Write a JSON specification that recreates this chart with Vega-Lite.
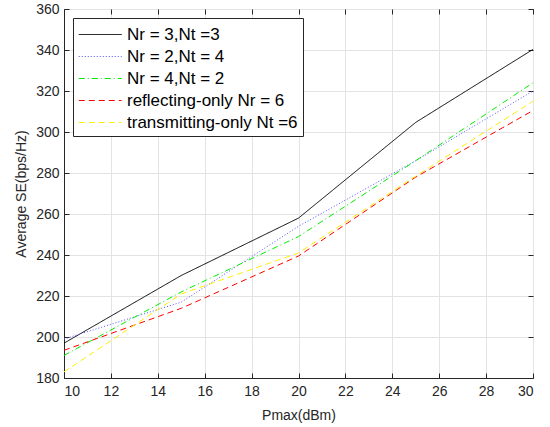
{
  "$schema": "https://vega.github.io/schema/vega-lite/v6.json",
  "width": 469,
  "height": 369,
  "autosize": {"type": "none"},
  "padding": {"left": 64, "top": 9, "right": 17, "bottom": 49},
  "background": "white",
  "config": {
    "font": "Liberation Sans",
    "view": {"stroke": "#262626", "strokeWidth": 1},
    "legend": {
      "symbolType": "M-1,0H3",
      "symbolSize": 460,
      "symbolStrokeWidth": 1,
      "labelFontSize": 17,
      "labelFont": "Liberation Sans",
      "labelColor": "#000000",
      "labelLimit": 300,
      "labelOffset": 26,
      "rowPadding": 2,
      "padding": 5,
      "strokeColor": "#262626",
      "fillColor": "white",
      "cornerRadius": 0
    }
  },
  "data": {
    "values": [
      {"p": 10, "se": 197, "s": "Nr = 3,Nt =3"},
      {"p": 15, "se": 230, "s": "Nr = 3,Nt =3"},
      {"p": 20, "se": 258, "s": "Nr = 3,Nt =3"},
      {"p": 25, "se": 304.7, "s": "Nr = 3,Nt =3"},
      {"p": 30, "se": 340.3, "s": "Nr = 3,Nt =3"},
      {"p": 10, "se": 199, "s": "Nr = 2,Nt = 4"},
      {"p": 15, "se": 217, "s": "Nr = 2,Nt = 4"},
      {"p": 20, "se": 254, "s": "Nr = 2,Nt = 4"},
      {"p": 25, "se": 286, "s": "Nr = 2,Nt = 4"},
      {"p": 30, "se": 320, "s": "Nr = 2,Nt = 4"},
      {"p": 10, "se": 191, "s": "Nr = 4,Nt = 2"},
      {"p": 15, "se": 222, "s": "Nr = 4,Nt = 2"},
      {"p": 20, "se": 249, "s": "Nr = 4,Nt = 2"},
      {"p": 25, "se": 286, "s": "Nr = 4,Nt = 2"},
      {"p": 30, "se": 324, "s": "Nr = 4,Nt = 2"},
      {"p": 10, "se": 193.5, "s": "reflecting-only Nr = 6"},
      {"p": 15, "se": 214, "s": "reflecting-only Nr = 6"},
      {"p": 20, "se": 239.5, "s": "reflecting-only Nr = 6"},
      {"p": 25, "se": 278, "s": "reflecting-only Nr = 6"},
      {"p": 30, "se": 310.5, "s": "reflecting-only Nr = 6"},
      {"p": 10, "se": 183, "s": "transmitting-only Nt =6"},
      {"p": 15, "se": 221, "s": "transmitting-only Nt =6"},
      {"p": 20, "se": 241, "s": "transmitting-only Nt =6"},
      {"p": 25, "se": 278.5, "s": "transmitting-only Nt =6"},
      {"p": 30, "se": 315, "s": "transmitting-only Nt =6"}
    ]
  },
  "layer": [
    {
      "mark": {"type": "line", "strokeWidth": 1, "clip": true},
      "encoding": {
        "x": {
          "field": "p", "type": "quantitative",
          "scale": {"domain": [10, 30], "nice": false, "zero": false},
          "axis": {
            "title": "Pmax(dBm)", "values": [10,12,14,16,18,20,22,24,26,28,30],
            "labelFont": "Liberation Sans", "titleFont": "Liberation Sans",
            "labelFontSize": 14, "titleFontSize": 14, "titleFontWeight": "normal",
            "labelColor": "#262626", "titleColor": "#262626",
            "domainColor": "#262626", "tickColor": "#262626",
            "gridColor": "#e3e3e3", "gridOpacity": 1,
            "tickSize": -5, "labelPadding": 11, "titlePadding": 10
          }
        },
        "y": {
          "field": "se", "type": "quantitative",
          "scale": {"domain": [180, 360], "nice": false, "zero": false},
          "axis": {
            "title": "Average SE(bps/Hz)", "values": [180,200,220,240,260,280,300,320,340,360],
            "labelFont": "Liberation Sans", "titleFont": "Liberation Sans",
            "labelFontSize": 14, "titleFontSize": 14, "titleFontWeight": "normal",
            "labelColor": "#262626", "titleColor": "#262626",
            "domainColor": "#262626", "tickColor": "#262626",
            "gridColor": "#e3e3e3", "gridOpacity": 1,
            "tickSize": -5, "labelPadding": 10, "titlePadding": 7
          }
        },
        "color": {
          "field": "s", "type": "nominal",
          "scale": {
            "domain": ["Nr = 3,Nt =3", "Nr = 2,Nt = 4", "Nr = 4,Nt = 2", "reflecting-only Nr = 6", "transmitting-only Nt =6"],
            "range": ["#000000", "#5555ff", "#00ee00", "#ff0000", "#ffee00"]
          },
          "legend": {"title": null, "orient": "none", "legendX": 9, "legendY": 9}
        },
        "strokeDash": {
          "field": "s", "type": "nominal",
          "scale": {
            "domain": ["Nr = 3,Nt =3", "Nr = 2,Nt = 4", "Nr = 4,Nt = 2", "reflecting-only Nr = 6", "transmitting-only Nt =6"],
            "range": [[1, 0], [1, 2], [6, 3, 1, 3], [6, 4], [6, 4]]
          },
          "legend": {"title": null, "orient": "none", "legendX": 9, "legendY": 9}
        }
      }
    },
    {
      "mark": {"type": "point", "opacity": 0},
      "encoding": {
        "x": {
          "field": "p", "type": "quantitative",
          "scale": {"domain": [10, 30], "nice": false, "zero": false},
          "axis": {"orient": "top", "title": null, "labels": false, "grid": false, "domain": false, "tickSize": -5, "tickColor": "#262626", "values": [10,12,14,16,18,20,22,24,26,28,30]}
        },
        "y": {
          "field": "se", "type": "quantitative",
          "scale": {"domain": [180, 360], "nice": false, "zero": false},
          "axis": {"orient": "right", "title": null, "labels": false, "grid": false, "domain": false, "tickSize": -5, "tickColor": "#262626", "values": [180,200,220,240,260,280,300,320,340,360]}
        }
      }
    }
  ],
  "resolve": {"axis": {"x": "independent", "y": "independent"}}
}
